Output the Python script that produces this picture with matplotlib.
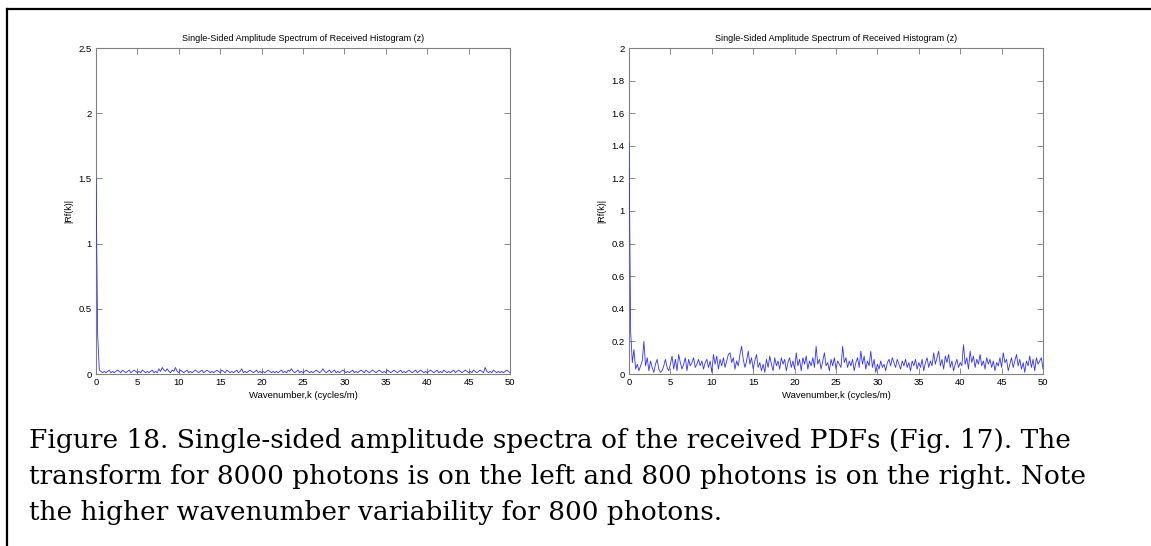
import numpy as np
import matplotlib
matplotlib.use('Agg')
import matplotlib.pyplot as plt
from matplotlib.lines import Line2D

# spectrum samples, wavenumber step of 0.2 cycles/m from 0 to 50
k_step = 0.2

amp_8000 = [
    1.50, 0.30, 0.03, 0.02, 0.01, 0.02, 0.01, 0.02, 0.03, 0.01,
    0.02, 0.01, 0.02, 0.03, 0.02, 0.01, 0.03, 0.02, 0.01, 0.02,
    0.03, 0.01, 0.02, 0.03, 0.02, 0.01, 0.02, 0.01, 0.03, 0.02,
    0.01, 0.02, 0.01, 0.02, 0.03, 0.01, 0.02, 0.01, 0.04, 0.02,
    0.05, 0.03, 0.02, 0.04, 0.02, 0.01, 0.03, 0.02, 0.05, 0.02,
    0.01, 0.03, 0.02, 0.01, 0.02, 0.03, 0.01, 0.02, 0.01, 0.02,
    0.03, 0.02, 0.01, 0.02, 0.03, 0.01, 0.02, 0.03, 0.02, 0.01,
    0.02, 0.01, 0.02, 0.03, 0.02, 0.01, 0.03, 0.02, 0.01, 0.03,
    0.02, 0.01, 0.02, 0.01, 0.02, 0.03, 0.01, 0.02, 0.04, 0.01,
    0.02, 0.01, 0.02, 0.03, 0.02, 0.01, 0.02, 0.03, 0.01, 0.02,
    0.01, 0.02, 0.01, 0.02, 0.03, 0.02, 0.01, 0.02, 0.01, 0.02,
    0.01, 0.02, 0.03, 0.01, 0.02, 0.01, 0.03, 0.02, 0.04, 0.02,
    0.01, 0.02, 0.03, 0.01, 0.02, 0.01, 0.02, 0.03, 0.02, 0.01,
    0.02, 0.01, 0.02, 0.03, 0.02, 0.01, 0.02, 0.04, 0.02, 0.01,
    0.02, 0.03, 0.01, 0.02, 0.03, 0.01, 0.02, 0.01, 0.02, 0.03,
    0.02, 0.01, 0.02, 0.01, 0.02, 0.03, 0.01, 0.02, 0.01, 0.02,
    0.03, 0.02, 0.01, 0.03, 0.02, 0.01, 0.02, 0.03, 0.02, 0.01,
    0.02, 0.03, 0.02, 0.01, 0.02, 0.01, 0.03, 0.02, 0.01, 0.02,
    0.03, 0.02, 0.01, 0.02, 0.03, 0.01, 0.02, 0.01, 0.02, 0.03,
    0.02, 0.01, 0.02, 0.03, 0.01, 0.02, 0.03, 0.02, 0.01, 0.02,
    0.01, 0.02, 0.03, 0.02, 0.01, 0.02, 0.03, 0.01, 0.02, 0.01,
    0.03, 0.02, 0.01, 0.02, 0.01, 0.02, 0.03, 0.01, 0.02, 0.03,
    0.02, 0.01, 0.02, 0.03, 0.02, 0.01, 0.02, 0.01, 0.03, 0.02,
    0.01, 0.02, 0.03, 0.02, 0.01, 0.05, 0.02, 0.01, 0.02, 0.01,
    0.03, 0.02, 0.01, 0.02, 0.01, 0.02, 0.01, 0.02, 0.03, 0.02,
    0.01,
]

amp_800 = [
    1.42, 0.26, 0.07, 0.15, 0.03, 0.06, 0.02, 0.05, 0.08, 0.20,
    0.05, 0.10, 0.02, 0.08, 0.04, 0.01, 0.06, 0.09, 0.03, 0.01,
    0.02, 0.05, 0.09, 0.04, 0.02, 0.06, 0.11, 0.03, 0.09, 0.02,
    0.12, 0.07, 0.03, 0.06, 0.10, 0.02, 0.09, 0.05, 0.07, 0.10,
    0.04, 0.06, 0.09, 0.05, 0.08, 0.03, 0.07, 0.09, 0.04, 0.08,
    0.01, 0.12, 0.06, 0.11, 0.03, 0.09, 0.05, 0.10, 0.04, 0.08,
    0.12, 0.13, 0.07, 0.10, 0.03, 0.08, 0.05, 0.12, 0.17, 0.09,
    0.04, 0.08, 0.14, 0.06, 0.10, 0.03, 0.08, 0.12, 0.04, 0.07,
    0.02, 0.06, 0.01, 0.09, 0.04, 0.11, 0.06, 0.02, 0.10, 0.05,
    0.08, 0.03, 0.10, 0.06, 0.09, 0.02, 0.07, 0.10, 0.04, 0.08,
    0.03, 0.13, 0.05, 0.09, 0.02, 0.10, 0.06, 0.11, 0.03, 0.08,
    0.05, 0.10, 0.04, 0.17, 0.06, 0.09, 0.03, 0.08, 0.13, 0.05,
    0.07, 0.02, 0.09, 0.05, 0.10, 0.03, 0.08, 0.06, 0.04, 0.17,
    0.07, 0.10, 0.04, 0.08, 0.05, 0.09, 0.02, 0.07, 0.10, 0.04,
    0.14, 0.06, 0.11, 0.03, 0.08, 0.05, 0.14, 0.04, 0.09, 0.01,
    0.06, 0.03, 0.08, 0.04, 0.06, 0.02, 0.07, 0.09, 0.05, 0.10,
    0.07, 0.04, 0.09, 0.06, 0.03, 0.08, 0.05, 0.09, 0.04, 0.07,
    0.02, 0.08, 0.05, 0.09, 0.03, 0.07, 0.04, 0.09, 0.02, 0.07,
    0.10, 0.04, 0.08, 0.05, 0.13, 0.06, 0.10, 0.14, 0.05, 0.09,
    0.03, 0.11, 0.07, 0.12, 0.04, 0.08, 0.02, 0.06, 0.09, 0.04,
    0.07, 0.05, 0.18, 0.06, 0.10, 0.03, 0.14, 0.07, 0.11, 0.04,
    0.09, 0.06, 0.12, 0.05, 0.08, 0.03, 0.10, 0.06, 0.09, 0.04,
    0.08, 0.02, 0.07, 0.05, 0.10, 0.04, 0.13, 0.07, 0.09, 0.02,
    0.06, 0.10, 0.04, 0.08, 0.12, 0.05, 0.09, 0.03, 0.07, 0.01,
    0.08, 0.05, 0.11, 0.04, 0.09, 0.02, 0.10, 0.06, 0.08, 0.10,
    0.03,
]

x_ticks = [0, 5, 10, 15, 20, 25, 30, 35, 40, 45, 50]
yticks_left = [0, 0.5, 1, 1.5, 2, 2.5]
yticks_right = [0, 0.2, 0.4, 0.6, 0.8, 1, 1.2, 1.4, 1.6, 1.8, 2]

title = 'Single-Sided Amplitude Spectrum of Received Histogram (z)'
xlabel = 'Wavenumber,k (cycles/m)'
ylabel = '|Rf(k)|'
caption = ['Figure 18. Single-sided amplitude spectra of the received PDFs (Fig. 17). The',
           'transform for 8000 photons is on the left and 800 photons is on the right. Note',
           'the higher wavenumber variability for 800 photons.']

plt.rcParams['font.family'] = ['Liberation Sans', 'DejaVu Sans']

fig = plt.figure(figsize=(11.51, 5.46), dpi=100)
W, H = 1151, 546


def panel(left_px, amp, yticks, ymax):
    ax = fig.add_axes([left_px / W, (H - 374) / H, 414 / W, (374 - 48) / H])
    k = np.arange(len(amp)) * k_step
    ax.plot(k, amp, color='#3030ff', lw=0.6, zorder=3)
    ax.set_xlim(0, 50)
    ax.set_ylim(0, ymax)
    ax.set_xticks(x_ticks)
    ax.set_xticklabels([str(t) for t in x_ticks])
    ax.set_yticks(yticks)
    ax.set_yticklabels([f'{t:g}' for t in yticks])
    ax.tick_params(direction='in', length=4, width=0.6, color='#777777',
                   labelsize=6.8, top=True, right=True, pad=3)
    for s in ax.spines.values():
        s.set_color('#808080')
        s.set_linewidth(0.8)
    ax.set_title(title, fontsize=6.5, pad=5)
    ax.set_xlabel(xlabel, fontsize=6.8, labelpad=3)
    ax.set_ylabel(ylabel, fontsize=6.5, labelpad=4)
    return ax


panel(96, amp_8000, yticks_left, 2.5)
panel(629, amp_800, yticks_right, 2)

# frame lines around the figure block
fig.add_artist(Line2D([7 / W, 1], [1 - 9 / H, 1 - 9 / H], color='black', lw=1.6))
fig.add_artist(Line2D([7 / W, 7 / W], [0, 1 - 9 / H], color='black', lw=1.6))

baselines = [448, 484, 520]
for line, yb in zip(caption, baselines):
    fig.text(29 / W, (H - yb) / H, line, family=['DejaVu Serif'],
             fontsize=19, va='baseline', ha='left')

fig.savefig('out.png', dpi=100)
